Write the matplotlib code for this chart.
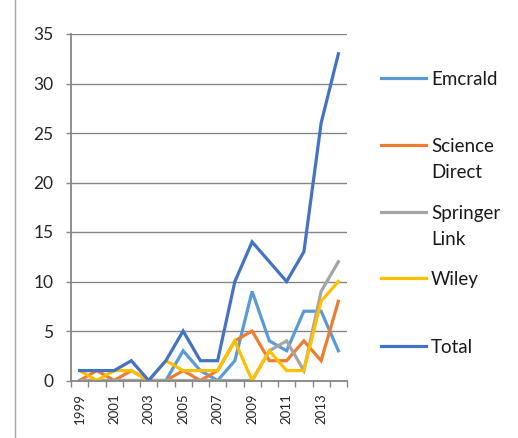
import matplotlib
matplotlib.use("Agg")
import matplotlib.pyplot as plt
from matplotlib.lines import Line2D

years = list(range(1999, 2015))
emerald = [0, 0, 0, 0, 0, 0, 3, 1, 0, 2, 9, 4, 3, 7, 7, 3]
science_direct = [0, 1, 0, 1, 0, 0, 1, 0, 1, 4, 5, 2, 2, 4, 2, 8]
springer_link = [0, 0, 0, 0, 0, 0, 0, 0, 0, 0, 0, 3, 4, 1, 9, 12]
wiley = [1, 0, 1, 1, 0, 2, 1, 1, 1, 4, 0, 3, 1, 1, 8, 10]
total = [1, 1, 1, 2, 0, 2, 5, 2, 2, 10, 14, 12, 10, 13, 26, 33]

names = ["Emcrald", "Science\nDirect", "Springer\nLink", "Wiley", "Total"]
colors = ["#5B9BD5", "#ED7D31", "#A5A5A5", "#FFC000", "#4472C4"]
series = [emerald, science_direct, springer_link, wiley, total]

plt.rcParams["font.family"] = ["Lato", "DejaVu Sans"]

W, H = 518, 438
fig = plt.figure(figsize=(W / 100, H / 100), dpi=100)
ax = fig.add_axes([71 / W, 1 - 380.5 / H, (347 - 71) / W, (380.5 - 34) / H])

x = list(range(len(years)))
for vals, c in zip(series, colors):
    ax.plot(x, vals, color=c, lw=2.3, solid_joinstyle="miter")

ax.set_xlim(-0.5, len(years) - 0.5)
ax.set_ylim(0, 35)
ax.set_yticks(range(0, 36, 5))
ax.yaxis.grid(True, color="#868686", lw=1.0)
ax.set_axisbelow(True)

# tick marks between categories, labels every other year
ax.set_xticks([i - 0.5 for i in range(len(years) + 1)])
ax.set_xticklabels([])
ax.set_xticks(x[::2], minor=True)
ax.set_xticklabels([str(y) for y in years[::2]], minor=True, rotation=90,
                   fontsize=9.5, color="#262626")
ax.tick_params(axis="x", which="major", length=4.5, width=1, color="#868686")
ax.tick_params(axis="x", which="minor", length=0, pad=9)
ax.tick_params(axis="y", length=3.6, width=1, color="#868686", pad=9,
               labelsize=12.5, labelcolor="#262626")

for s in ["top", "right"]:
    ax.spines[s].set_visible(False)
for s in ["left", "bottom"]:
    ax.spines[s].set_color("#868686")
    ax.spines[s].set_linewidth(1.3)

# legend placed to the right like the original, handle level with first line
legend_y = [78, 145, 212, 278, 346]
for name, c, ly in zip(names, colors, legend_y):
    yf = 1 - ly / H
    fig.add_artist(Line2D([381 / W, 426 / W], [yf, yf], color=c, lw=2.3))
    for k, part in enumerate(name.split("\n")):
        fig.text(431 / W, 1 - (ly + 6.7 + k * 26.5) / H, part, fontsize=13.5,
                 va="baseline", ha="left", color="#1a1a1a")

# frame edge at the left
fig.add_artist(Line2D([15 / W, 15 / W], [0, 1], color="#a6a6a6", lw=1))

fig.savefig("out.png", dpi=100)
